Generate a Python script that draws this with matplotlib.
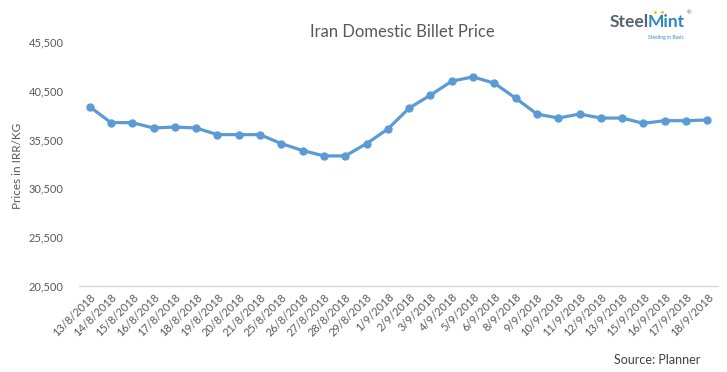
import matplotlib
matplotlib.use("Agg")
import matplotlib.pyplot as plt

dates = ["13/8/2018", "14/8/2018", "15/8/2018", "16/8/2018", "17/8/2018", "18/8/2018",
         "19/8/2018", "20/8/2018", "21/8/2018", "25/8/2018", "26/8/2018", "27/8/2018",
         "28/8/2018", "29/8/2018", "1/9/2018", "2/9/2018", "3/9/2018", "4/9/2018",
         "5/9/2018", "6/9/2018", "8/9/2018", "9/9/2018", "10/9/2018", "11/9/2018",
         "12/9/2018", "13/9/2018", "15/9/2018", "16/9/2018", "17/9/2018", "18/9/2018"]
prices = [38870, 37240, 37240, 36690, 36790, 36690,
          36010, 36010, 36010, 35090, 34380, 33830,
          33830, 35090, 36590, 38730, 40060, 41490,
          41930, 41280, 39750, 38120, 37710, 38120,
          37710, 37710, 37170, 37440, 37440, 37510]
yticks = [20500, 25500, 30500, 35500, 40500, 45500]

plt.rcParams['font.family'] = ['Lato', 'DejaVu Sans']
txt = '#595959'

fig = plt.figure(figsize=(7.27, 3.72), dpi=100)
ax = fig.add_axes([0.1087, 0.2312, 0.8789, 0.6558])
x = list(range(len(dates)))
ax.plot(x, prices, color='#5B9BD5', linewidth=2.3, marker='o', markersize=5,
        markerfacecolor='#5B9BD5', markeredgecolor='#5B9BD5', solid_capstyle='round')
ax.set_xlim(-0.5, len(dates) - 0.5)
ax.set_ylim(20500, 45500)
ax.set_yticks(yticks)
ax.set_yticklabels([f"{v:,}" for v in yticks])
ax.set_xticks(x)
ax.set_xticklabels(dates, rotation=45, ha='right', rotation_mode='anchor')
ax.tick_params(axis='both', length=0, labelsize=8, colors=txt)
ax.tick_params(axis='y', pad=11)
ax.tick_params(axis='x', pad=4)
for s in ['top', 'right', 'left']:
    ax.spines[s].set_visible(False)
ax.spines['bottom'].set_color('#D9D9D9')
ax.spines['bottom'].set_linewidth(1)

fig.text(18 / 727, 0.554, 'Prices in IRR/KG', rotation=90, ha='center', va='center',
         fontsize=8.5, color=txt)

fig.text(0.554, 0.914, 'Iran Domestic Billet Price', ha='center', va='center',
         fontsize=12, color=txt)
fig.text(0.963, 0.032, 'Source: Planner', ha='right', va='center', fontsize=9, color='#404040')

# Logo
fig.text(0.838, 0.942, 'Steel', ha='left', va='center', fontsize=12.5, fontweight='bold',
         color='#56646F')
fig.text(0.891, 0.942, 'Mint', ha='left', va='center', fontsize=12.5, fontweight='bold',
         color='#2E86C9')
fig.text(0.940, 0.900, 'Steeling in Basic', ha='right', va='center', fontsize=3.6,
         color='#2E86C9')
fig.text(0.945, 0.965, '®', ha='left', va='center', fontsize=4, color='#56646F')
for fx in (0.901, 0.910):
    fig.text(fx, 0.970, '•', ha='center', va='center', fontsize=6, color='#F5C518')

fig.savefig('out.png', dpi=100)
